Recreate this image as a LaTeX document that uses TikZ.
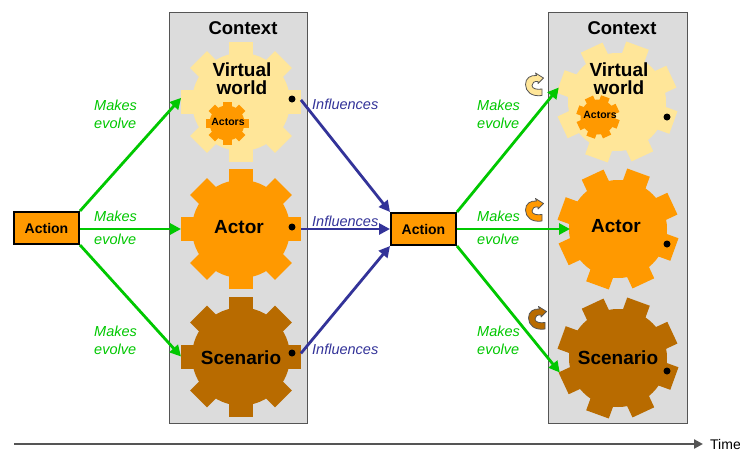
\documentclass[tikz,border=0pt]{standalone}
\usepackage{fontspec}
\setmainfont{Liberation Sans}
\usetikzlibrary{arrows.meta}
\definecolor{gYellow}{HTML}{FFE699}
\definecolor{gOrange}{HTML}{FF9900}
\definecolor{gBrown}{HTML}{B86B00}
\definecolor{cGreen}{HTML}{00C800}
\definecolor{cBlue}{HTML}{333399}
\definecolor{cPanel}{HTML}{DCDCDC}
\definecolor{cEdge}{HTML}{555555}
\newcommand{\mygear}[8]{% name, x, y, R, r, tooth width, rotation, colour
  \foreach \ang in {0,45,...,315}{
    \fill[#8,shift={(#2,#3)},rotate=#7+\ang] (0,{-(#6)/2}) rectangle (#4,{(#6)/2});
  }
  \fill[#8] (#2,#3) circle[radius=#5];
  \node[circle,minimum size=#4*2pt,inner sep=0pt,outer sep=0pt] (#1) at (#2,#3) {};
}
\newcommand{\mycycle}[5]{% x, y, rotation, colour, outline
  \filldraw[fill=#4,draw=#5,line width=0.8pt,line join=round,shift={(#1,#2)},rotate=#3]
    (7.5,11) .. controls (-3,12.5) and (-9,7) .. (-9,0)
    .. controls (-9,-6.5) and (-4,-9.5) .. (2,-9)
    -- (1,-11.5) -- (9,-6.5) -- (3.5,-1) -- (3.5,-3)
    .. controls (-0.5,-3.5) and (-2.5,-1.5) .. (-2.5,1)
    .. controls (-2.5,4) and (2,5.5) .. (7.5,4.5) -- cycle;
}
\tikzset{
  panel/.style={draw=cEdge,fill=cPanel,line width=0.8pt},
  actionbox/.style={draw=black,fill=gOrange,line width=2pt,minimum width=65pt,minimum height=32pt,inner sep=0pt,font=\fontsize{14}{14}\bfseries\selectfont},
  greenarrow/.style={draw=cGreen,line width=2.8pt,-{Triangle[length=11pt,width=11pt]}},
  bluearrow/.style={draw=cBlue,line width=2.8pt,-{Triangle[length=11pt,width=11pt]}},
  evolvelab/.style={text=cGreen,font=\fontsize{14.5}{14.5}\itshape\selectfont,anchor=west,inner sep=0pt},
  influencelab/.style={text=cBlue,font=\fontsize{14.5}{14.5}\itshape\selectfont,anchor=west,inner sep=0pt},
  ctxlab/.style={font=\fontsize{18.5}{18.5}\bfseries\selectfont,inner sep=0pt},
  gearlab/.style={font=\fontsize{19}{18}\bfseries\selectfont,inner sep=0pt,align=center},
  smalllab/.style={font=\fontsize{10.5}{10.5}\bfseries\selectfont,inner sep=0pt},
  hub/.style={fill=black,circle,minimum size=7pt,inner sep=0pt},
}
\begin{document}
\begin{tikzpicture}[x=1pt,y=-1pt]
\useasboundingbox (0,0) rectangle (740,451);
\fill[white] (0,0) rectangle (740,451);
\draw[panel] (169.5,12.5) rectangle (307,423);
\draw[panel] (548.5,12.5) rectangle (687,423);
\node[ctxlab] (ctxA) at (243,28) {Context};
\node[ctxlab] (ctxB) at (622,28) {Context};
\mygear{vwA}{241}{102}{60}{49}{24}{0}{gYellow}
\mygear{acA}{241}{229}{60}{49}{24}{0}{gOrange}
\mygear{scA}{241}{356.5}{60}{49}{24}{0}{gBrown}
\mygear{vwB}{617}{102}{60}{49}{24}{-20}{gYellow}
\mygear{acB}{618}{229}{60}{49}{24}{-20}{gOrange}
\mygear{scB}{618}{358}{60}{49}{24}{-20}{gBrown}
\mygear{smA}{227}{123}{21.5}{17.5}{9}{0}{gOrange}
\mygear{smB}{598}{117}{21.5}{17.5}{9}{-20}{gOrange}
\node[hub] (d1) at (292,99) {};
\node[hub] (d2) at (292,227) {};
\node[hub] (d3) at (292,353) {};
\node[hub] (d4) at (667,117) {};
\node[hub] (d5) at (667,244) {};
\node[hub] (d6) at (667,371) {};
\node[gearlab] (t1) at (242,79) {Virtual\\world};
\node[gearlab] (t2) at (239,227) {Actor};
\node[gearlab] (t3) at (241,358) {Scenario};
\node[gearlab] (t4) at (619,79) {Virtual\\world};
\node[gearlab] (t5) at (616,226) {Actor};
\node[gearlab] (t6) at (618,358) {Scenario};
\node[smalllab] (t7) at (228,122) {Actors};
\node[smalllab] (t8) at (600,115) {Actors};
\node[actionbox] (act1) at (46.5,228) {Action};
\node[actionbox] (act2) at (423.5,229) {Action};
\coordinate (acBtip) at (570,229);
\draw[greenarrow] (act1.north east) -- (vwA.176);
\draw[greenarrow] (act1.east |- acA.west) -- (acA.west);
\draw[greenarrow] (act1.south east) -- (scA.west);
\draw[bluearrow] (vwA.2) -- (act2.north west);
\draw[bluearrow] (acA.east) -- (act2.west);
\draw[bluearrow] (scA.3) -- (act2.south west);
\draw[greenarrow] (act2.north east) -- (vwB.166);
\draw[greenarrow] (act2.east) -- (acBtip);
\draw[greenarrow] (act2.south east) -- (scB.194);
\foreach \x in {94,477}{
  \node[evolvelab] at (\x,105) {Makes};
  \node[evolvelab] at (\x,123) {evolve};
  \node[evolvelab] at (\x,216) {Makes};
  \node[evolvelab] at (\x,239) {evolve};
  \node[evolvelab] at (\x,331) {Makes};
  \node[evolvelab] at (\x,349) {evolve};
}
\node[influencelab] (i1) at (312,104) {Influences};
\node[influencelab] (i2) at (312,221) {Influences};
\node[influencelab] (i3) at (312,349) {Influences};
\mycycle{534.5}{84.5}{0}{gYellow}{cEdge}
\mycycle{534.5}{210}{0}{gOrange}{cEdge}
\mycycle{537.5}{318}{0}{gBrown}{cEdge}
\coordinate (timeStart) at (14,444);
\coordinate (timeEnd) at (703,444);
\node[font=\fontsize{14}{14}\selectfont,anchor=west,inner sep=0pt] (timeLab) at (710,444) {Time};
\draw[draw=cEdge,line width=2.6pt,-{Triangle[length=9pt,width=9pt]}] (timeStart) -- (timeEnd);
\end{tikzpicture}
\end{document}
